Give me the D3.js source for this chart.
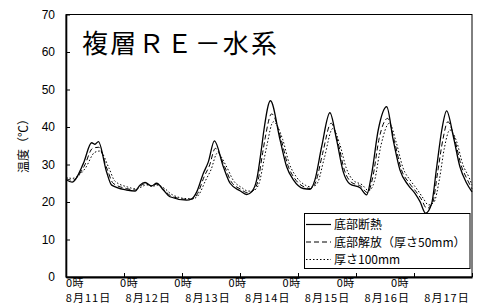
<!DOCTYPE html>
<html>
<head>
<meta charset="utf-8">
<script src="https://cdn.jsdelivr.net/npm/d3@7"></script>
<style>
  body { margin: 0; background: #fff; }
  svg { display: block; }
</style>
</head>
<body>
<div id="chart"></div>
<script>
// hours from 8/11 0時, temperature in deg C
insulated = [[0,26.0],[2.5,25.3],[7.2,30.3],[10.6,35.8],[12.0,35.4],[13.4,36.1],[16.8,28.0],[18.9,24.5],
  [25.1,23.2],[28.6,22.9],[30.6,24.5],[32.7,25.2],[35.5,24.3],[37.5,25.0],[40.3,23.2],[43.0,21.4],
  [49.9,20.5],[52.0,20.8],[54.1,22.7],[56.8,27.6],[58.9,30.7],[61.4,36.3],[65.1,29.4],[67.9,25.0],
  [72.0,23.0],[74.8,22.0],[76.8,22.7],[78.9,25.9],[81.0,34.8],[81.9,39.2],[84.6,47.0],[88.6,36.5],
  [91.3,29.4],[94.1,25.9],[98.2,23.6],[101.0,23.4],[103.0,25.9],[105.8,34.8],[109.2,43.8],[112.0,36.5],
  [114.7,28.1],[117.5,24.8],[121.7,23.8],[124.4,21.9],[126.5,27.6],[129.2,39.2],[132.7,45.4],[135.4,36.5],
  [138.2,28.5],[141.6,24.5],[144.4,22.3],[146.5,20.1],[148.8,17.0],[151.3,19.6],[153.4,29.4],[155.5,39.2],
  [157.5,44.3],[160.3,37.4],[163.0,29.4],[165.8,25.0],[168,22.7]];

open50 = [[0,26.3],[2.5,25.8],[7.5,29.5],[11,34.3],[13.5,34.6],[17,28.8],[19.5,25.0],
  [25,23.6],[28.6,23.2],[30.8,24.3],[32.8,24.9],[35.5,24.2],[37.6,24.8],[40.5,23.3],[43.2,21.7],
  [50,20.7],[52.3,20.8],[54.5,22.3],[57.2,26.8],[59.3,29.6],[61.8,34.3],[65.6,29.5],[68.4,25.4],
  [72.3,23.4],[75,22.5],[77.2,22.9],[79.3,25.3],[81.4,33.2],[82.4,37.0],[85.1,43.5],[89.1,36.5],
  [91.8,29.8],[94.6,26.3],[98.6,24.0],[101.3,23.6],[103.4,25.4],[106.2,33.0],[109.7,41.0],[112.5,36.0],
  [115.2,28.5],[118,25.3],[122,24.2],[124.8,22.5],[126.9,26.5],[129.6,37.0],[133.1,42.3],[135.9,36.2],
  [138.7,28.8],[142.1,25.0],[144.8,22.8],[147,20.8],[149.3,18.3],[151.7,19.8],[153.8,28.0],[156,36.8],
  [158,41.4],[160.8,36.8],[163.5,29.8],[166.2,25.8],[168,23.5]];

thick100 = [[0,26.6],[2.5,26.3],[8,29.0],[11.8,33.2],[14,33.6],[17.8,29.0],[20.2,25.6],
  [25.5,24.0],[29,23.5],[31.2,24.0],[33.2,24.6],[35.8,24.2],[38,24.5],[41,23.5],[43.8,22.0],
  [50.3,20.9],[52.6,20.9],[55,22.0],[57.8,25.8],[60,28.6],[62.6,33.0],[66.3,29.6],[69.2,25.8],
  [72.8,23.8],[75.4,22.9],[77.7,23.1],[79.8,24.8],[82,31.5],[83.1,35.0],[85.8,41.4],[89.7,36.6],
  [92.4,30.2],[95.2,26.8],[99,24.5],[101.8,24.0],[104,25.0],[106.8,31.5],[110.4,39.6],[113.2,35.6],
  [116,29.0],[118.8,25.8],[122.5,24.6],[125.3,23.0],[127.6,25.5],[130.3,35.0],[133.8,41.0],[136.6,36.0],
  [139.4,29.2],[142.8,25.5],[145.5,23.2],[147.8,21.0],[150,19.2],[152.3,20.0],[154.5,26.0],[156.6,34.5],
  [158.8,39.2],[161.5,36.4],[164.2,30.0],[166.8,26.5],[168,24.5]];

dates = ["8月11日", "8月12日", "8月13日", "8月14日", "8月15日", "8月16日", "8月17日"];
dayTicks = [0, 24, 48, 72, 96, 120, 144, 168];
yTicks = [0, 10, 20, 30, 40, 50, 60, 70];
seriesNames = ["底部断熱", "底部解放（厚さ50mm）", "厚さ100mm"];
dashes = [null, "5,3", "1.5,2"];

width = 484;
height = 304;
margin = ({left: 66, right: 12, top: 14.5, bottom: 27});

const jp = "'Noto Sans CJK JP', sans-serif";
const num = "'Liberation Sans', Arial, sans-serif";

x = d3.scaleLinear().domain([0, 168]).range([margin.left, width - margin.right]);
y = d3.scaleLinear().domain([0, 70]).range([height - margin.bottom, margin.top]);

const svg = d3.select("#chart")
    .append("svg")
    .attr("width", width)
    .attr("height", height);

// frame
svg.append("rect")
    .attr("x", x(0)).attr("y", y(70))
    .attr("width", x(168) - x(0)).attr("height", y(0) - y(70))
    .attr("fill", "none").attr("stroke", "#000").attr("stroke-width", 1);

// y axis
svg.append("g")
    .attr("transform", `translate(${x(0)},0)`)
    .call(d3.axisLeft(y).tickValues(yTicks).tickSizeInner(-4).tickSizeOuter(0).tickPadding(11))
    .call(g => g.select(".domain").attr("stroke-width", 1.6))
    .call(g => g.selectAll(".tick text").attr("font-family", num).attr("font-size", "12px").attr("fill", "#000"));

// x axis
svg.append("g")
    .attr("transform", `translate(0,${y(0)})`)
    .call(d3.axisBottom(x).tickValues(dayTicks).tickSizeInner(-4).tickSizeOuter(0).tickFormat(""))
    .call(g => g.select(".domain").attr("stroke-width", 1.8));

// x labels (two rows)
hourPos = d3.scalePoint().domain(dates).range([75, 400]);
datePos = d3.scalePoint().domain(dates).range([88.5, 447]);

svg.append("g").selectAll("text")
    .data(dates)
    .join("text")
    .attr("x", d => hourPos(d))
    .attr("y", 287)
    .attr("text-anchor", "middle")
    .attr("font-family", jp)
    .attr("font-size", "11px")
    .attr("letter-spacing", "0.5px")
    .attr("fill", "#000")
    .text("0時");

svg.append("g").selectAll("text")
    .data(dates)
    .join("text")
    .attr("x", d => datePos(d))
    .attr("y", 301.5)
    .attr("text-anchor", "middle")
    .attr("font-family", jp)
    .attr("font-size", "11px")
    .attr("letter-spacing", "1px")
    .attr("fill", "#000")
    .text(d => d);

// y title
svg.append("text")
    .attr("transform", "translate(28,143) rotate(-90)")
    .attr("text-anchor", "middle")
    .attr("font-family", jp)
    .attr("font-size", "12px")
    .attr("fill", "#000")
    .style("opacity", 0.99)
    .text("温度（℃）");

// lines
line = d3.line()
    .x(d => x(d[0]))
    .y(d => y(d[1]))
    .curve(d3.curveMonotoneX);

[thick100, open50, insulated].forEach((s, k) => {
    const i = 2 - k;
    svg.append("path")
        .datum(s)
        .attr("fill", "none")
        .attr("stroke", "#000")
        .attr("stroke-width", i === 0 ? 1.3 : 1)
        .attr("stroke-dasharray", dashes[i])
        .attr("d", line);
});

// title
svg.append("text")
    .attr("x", 82)
    .attr("y", 53)
    .attr("font-family", jp)
    .attr("font-size", "26px")
    .attr("textLength", 195)
    .attr("fill", "#000")
    .text("複層ＲＥ－水系");

// legend
const legend = svg.append("g");
legend.append("rect")
    .attr("x", 304.5).attr("y", 213.5)
    .attr("width", 165.5).attr("height", 55)
    .attr("fill", "#fff").attr("stroke", "#000").attr("stroke-width", 1);

const rows = legend.selectAll("g.row")
    .data(seriesNames)
    .join("g")
    .attr("class", "row")
    .attr("transform", (d, i) => `translate(0,${224.5 + i * 17.5})`);

rows.append("line")
    .attr("x1", 306).attr("x2", 331)
    .attr("stroke", "#000")
    .attr("stroke-width", (d, i) => i === 0 ? 1.2 : 1)
    .attr("stroke-dasharray", (d, i) => dashes[i]);

rows.append("text")
    .attr("x", 334)
    .attr("dy", "0.38em")
    .attr("font-family", jp)
    .attr("font-size", "12px")
    .attr("fill", "#000")
    .text(d => d);
</script>
</body>
</html>
